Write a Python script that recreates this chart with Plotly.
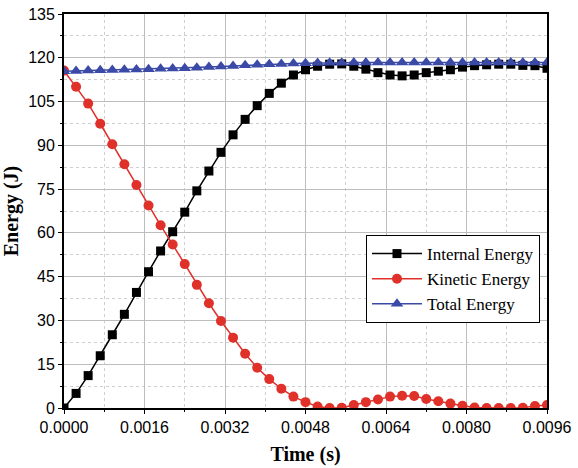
import plotly.graph_objects as go

time_s = [0.0, 0.00024, 0.00048, 0.00072, 0.00096, 0.0012, 0.00144, 0.00168, 0.00192, 0.00216,
          0.0024, 0.00264, 0.00288, 0.00312, 0.00336, 0.0036, 0.00384, 0.00408, 0.00432, 0.00456,
          0.0048, 0.00504, 0.00528, 0.00552, 0.00576, 0.006, 0.00624, 0.00648, 0.00672, 0.00696,
          0.0072, 0.00744, 0.00768, 0.00792, 0.00816, 0.0084, 0.00864, 0.00888, 0.00912, 0.00936,
          0.0096]

internal_energy = [0.0, 5.0, 11.1, 17.9, 25.1, 32.1, 39.6, 46.7, 53.8, 60.4,
                   67.1, 74.4, 81.2, 87.6, 93.6, 98.9, 103.6, 107.8, 111.3, 114.1,
                   115.9, 117.1, 117.8, 117.9, 117.1, 116.1, 114.9, 114.1, 113.8, 114.1,
                   114.9, 115.4, 115.9, 116.8, 117.3, 117.6, 117.8, 117.8, 117.4, 117.3,
                   116.4]

kinetic_energy = [115.6, 110.1, 104.3, 97.4, 90.4, 83.5, 76.4, 69.4, 62.6, 56.0,
                  49.3, 42.2, 35.9, 29.8, 24.1, 18.6, 13.8, 9.9, 6.6, 3.9,
                  2.0, 0.5, 0.0, 0.1, 1.0, 2.0, 2.9, 3.9, 4.2, 4.1,
                  3.1, 2.3, 1.5, 0.8, 0.2, 0.0, 0.0, 0.0, 0.1, 0.7,
                  1.0]

total_energy = [115.4, 115.5, 115.6, 115.7, 115.8, 115.9, 116.0, 116.1, 116.2, 116.3,
                116.4, 116.6, 116.8, 117.0, 117.2, 117.4, 117.6, 117.8, 117.9, 118.0,
                118.1, 118.2, 118.3, 118.3, 118.4, 118.4, 118.4, 118.4, 118.4, 118.4,
                118.4, 118.4, 118.4, 118.4, 118.4, 118.4, 118.4, 118.4, 118.4, 118.4,
                118.4]

x_ticks = [0.0, 0.0016, 0.0032, 0.0048, 0.0064, 0.0080, 0.0096]
y_ticks = [0, 15, 30, 45, 60, 75, 90, 105, 120, 135]

fig = go.Figure()
fig.add_trace(go.Scatter(x=time_s, y=internal_energy, name="Internal Energy",
                         mode="lines+markers",
                         line=dict(color="#000000", width=1.5),
                         marker=dict(symbol="square", size=9, color="#000000")))
fig.add_trace(go.Scatter(x=time_s, y=kinetic_energy, name="Kinetic Energy",
                         mode="lines+markers",
                         line=dict(color="#e0302a", width=1.5),
                         marker=dict(symbol="circle", size=10, color="#e0302a")))
fig.add_trace(go.Scatter(x=time_s, y=total_energy, name="Total Energy",
                         mode="lines+markers",
                         line=dict(color="#3a4aa6", width=1.5),
                         marker=dict(symbol="triangle-up", size=11, color="#3a4aa6")))

axis_common = dict(
    showline=True, linecolor="black", linewidth=1.8, mirror=True,
    ticks="outside", ticklen=4, tickcolor="black", tickwidth=1,
    showgrid=True, gridcolor="#bdbdbd", gridwidth=1,
    zeroline=False, automargin=True,
    tickfont=dict(family="Liberation Sans, Arial, sans-serif", size=16, color="black"),
)

fig.update_xaxes(
    **axis_common,
    range=[0, 0.0096], tickvals=x_ticks, tickformat=".4f",
    minor=dict(dtick=0.0008, tick0=0, showgrid=True, griddash="dot", gridcolor="#cfcfcf",
               ticks="outside", ticklen=2, tickcolor="black"),
    title=dict(text="<b>Time (s)</b>", standoff=12,
               font=dict(family="Liberation Serif, Times New Roman, serif", size=20, color="black")),
)
fig.update_yaxes(
    **axis_common,
    range=[0, 135], tickvals=y_ticks,
    minor=dict(dtick=7.5, tick0=0, showgrid=True, griddash="dot", gridcolor="#cfcfcf",
               ticks="outside", ticklen=2, tickcolor="black"),
    title=dict(text="<b>Energy (J)</b>", standoff=6,
               font=dict(family="Liberation Serif, Times New Roman, serif", size=20, color="black")),
)

fig.update_layout(
    width=578, height=468,
    margin=dict(l=64, r=31, t=14, b=60, autoexpand=False),
    paper_bgcolor="white", plot_bgcolor="white",
    showlegend=True,
    legend=dict(x=0.9855, y=0.439, xanchor="right", yanchor="top",
                bgcolor="white", bordercolor="black", borderwidth=1,
                font=dict(family="Liberation Serif, Times New Roman, serif", size=17, color="black"),
                tracegroupgap=0, itemwidth=50),
)

fig.write_html("out.html",
               config={"displayModeBar": False},
               post_script="document.body.style.margin='0px';document.body.style.overflow='hidden';")
